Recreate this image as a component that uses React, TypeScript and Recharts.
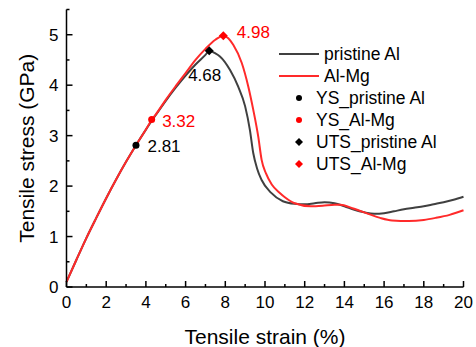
import React from "react";
import {
  ComposedChart,
  Line,
  Scatter,
  XAxis,
  YAxis,
  LabelList,
} from "recharts";

const strainPristine = [0, 0.5, 1, 1.5, 2, 2.5, 3, 3.5, 4, 4.5, 5, 5.5, 6, 6.5, 7, 7.19, 7.5, 7.73, 8.24, 8.65, 9.0, 9.24, 9.41, 9.6, 9.83, 10.3, 10.9, 11.5, 12, 12.5, 13, 13.5, 14, 14.5, 15, 15.5, 16, 16.5, 17, 17.5, 18, 18.5, 19, 19.5, 20];
const stressPristine = [0.1, 0.54, 0.97, 1.37, 1.76, 2.13, 2.48, 2.81, 3.12, 3.41, 3.69, 3.95, 4.19, 4.41, 4.6, 4.68, 4.63, 4.57, 4.3, 3.97, 3.58, 3.11, 2.65, 2.35, 2.12, 1.87, 1.7, 1.65, 1.64, 1.66, 1.68, 1.66, 1.6, 1.53, 1.48, 1.45, 1.46, 1.5, 1.54, 1.57, 1.6, 1.64, 1.68, 1.73, 1.79];

const strainAlMg = [0, 0.5, 1, 1.5, 2, 2.5, 3, 3.5, 4, 4.29, 4.5, 5, 5.5, 6, 6.5, 7, 7.5, 7.9, 8.15, 8.4, 8.83, 9.16, 9.41, 9.66, 9.83, 10.05, 10.34, 10.76, 11, 11.5, 12.3, 12.9, 13.5, 13.8, 14.4, 15.2, 15.8, 16.4, 17.25, 18, 18.6, 19.3, 20];
const stressAlMg = [0.1, 0.54, 0.97, 1.37, 1.76, 2.13, 2.48, 2.81, 3.12, 3.31, 3.42, 3.71, 3.98, 4.24, 4.5, 4.72, 4.9, 4.98, 4.93, 4.8, 4.44, 3.97, 3.51, 2.98, 2.52, 2.25, 2.03, 1.86, 1.78, 1.66, 1.6, 1.61, 1.63, 1.63, 1.56, 1.45, 1.37, 1.32, 1.31, 1.33, 1.37, 1.43, 1.52];

// yield and ultimate points [strain, stress]
const ysPristine = [3.5, 2.81];
const ysAlMg = [4.29, 3.32];
const utsPristine = [7.19, 4.68];
const utsAlMg = [7.9, 4.98];

const xTicks = [0, 1, 2, 3, 4, 5, 6, 7, 8, 9, 10, 11, 12, 13, 14, 15, 16, 17, 18, 19, 20];
const yTicks = [0, 0.5, 1, 1.5, 2, 2.5, 3, 3.5, 4, 4.5, 5, 5.5];

const legendItems = [
  { name: "pristine Al", kind: "line", color: "#404040" },
  { name: "Al-Mg", kind: "line", color: "#ff2a2a" },
  { name: "YS_pristine Al", kind: "circle", color: "#000000" },
  { name: "YS_Al-Mg", kind: "circle", color: "#ff0000" },
  { name: "UTS_pristine Al", kind: "diamond", color: "#000000" },
  { name: "UTS_Al-Mg", kind: "diamond", color: "#ff0000" },
];

const FONT = "'Liberation Sans', Arial, sans-serif";
const GRAY = "#404040";
const RED = "#ff2a2a";

const toPoints = (xs: number[], ys: number[]) => xs.map((x, i) => ({ x, y: ys[i] }));

const pristineData = toPoints(strainPristine, stressPristine);
const alMgData = toPoints(strainAlMg, stressAlMg);

const XTick = (props: any) => {
  const { x, y, payload, top } = props;
  const v = payload.value;
  const major = v % 2 === 0;
  const len = major ? 6 : 3;
  return (
    <g>
      <line x1={x} x2={x} y1={y} y2={top ? y + len : y - len} stroke="#000" strokeWidth={1.5} />
      {!top && major && (
        <text x={x} y={y + 21} textAnchor="middle" fontSize={17} fontFamily={FONT} fill="#000">
          {v}
        </text>
      )}
    </g>
  );
};

const YTick = (props: any) => {
  const { x, y, payload, right } = props;
  const v = payload.value;
  const major = Number.isInteger(v);
  const len = major ? 6 : 3;
  return (
    <g>
      <line x1={x} x2={right ? x - len : x + len} y1={y} y2={y} stroke="#000" strokeWidth={1.5} />
      {!right && major && (
        <text x={x - 8} y={y} dy="0.36em" textAnchor="end" fontSize={17} fontFamily={FONT} fill="#000">
          {v}
        </text>
      )}
    </g>
  );
};

const Dot = (color: string) => (props: any) => (
  <circle cx={props.cx} cy={props.cy} r={3.5} fill={color} />
);

const Diamond = (color: string) => (props: any) => {
  const { cx, cy } = props;
  const s = 4.5;
  return <polygon points={`${cx},${cy - s} ${cx + s},${cy} ${cx},${cy + s} ${cx - s},${cy}`} fill={color} />;
};

const valueLabel = (color: string, dx: number, dy: number, anchor: string) => (props: any) => {
  const { x, y, value } = props;
  return (
    <text x={x + dx} y={y + dy} textAnchor={anchor} fontSize={17} fontFamily={FONT} fill={color}>
      {Number(value).toFixed(2)}
    </text>
  );
};

function Legend() {
  return (
    <div style={{ position: "absolute", left: 278, top: 43, fontFamily: FONT, fontSize: 17.5 }}>
      {legendItems.map((it) => (
        <div key={it.name} style={{ display: "flex", alignItems: "center", height: 22 }}>
          <svg width={46} height={22} style={{ marginRight: it.kind === "line" ? 0 : -4 }}>
            {it.kind === "line" && <line x1={1} x2={41} y1={11} y2={11} stroke={it.color} strokeWidth={2} />}
            {it.kind === "circle" && <circle cx={21} cy={11} r={3} fill={it.color} />}
            {it.kind === "diamond" && <polygon points="21,7 25,11 21,15 17,11" fill={it.color} />}
          </svg>
          <span style={{ color: "#000", whiteSpace: "nowrap", marginLeft: it.kind === "line" ? 0 : -4 }}>{it.name}</span>
        </div>
      ))}
    </div>
  );
}

export default function App() {
  return (
    <div style={{ position: "fixed", left: 0, top: 0, width: 476, height: 347, background: "#fff" }}>
      <ComposedChart width={476} height={347} margin={{ top: 9.5, right: 12.5, left: 0, bottom: 0 }}>
        <XAxis
          xAxisId="b"
          dataKey="x"
          type="number"
          domain={[0, 20]}
          ticks={xTicks}
          interval={0}
          tickSize={0}
          tickMargin={0}
          tickLine={false}
          axisLine={{ stroke: "#000", strokeWidth: 1.5 }}
          tick={<XTick />}
          height={60}
          label={{ value: "Tensile strain (%)", position: "insideBottom", offset: 3, fontSize: 21, fontFamily: FONT, fill: "#000" }}
        />
        <XAxis
          xAxisId="t"
          orientation="top"
          dataKey="x"
          type="number"
          domain={[0, 20]}
          ticks={xTicks}
          interval={0}
          tickSize={0}
          tickMargin={0}
          tickLine={false}
          axisLine={{ stroke: "#000", strokeWidth: 1.5 }}
          tick={<XTick top />}
          height={0}
        />
        <YAxis
          yAxisId="l"
          type="number"
          domain={[0, 5.5]}
          ticks={yTicks}
          interval={0}
          tickSize={0}
          tickMargin={0}
          tickLine={false}
          axisLine={{ stroke: "#000", strokeWidth: 1.5 }}
          tick={<YTick />}
          width={66.5}
          label={{ value: "Tensile stress (GPa)", angle: -90, position: "insideLeft", offset: 27, fontSize: 21, fontFamily: FONT, fill: "#000", style: { textAnchor: "middle" } }}
        />
        <YAxis
          yAxisId="r"
          orientation="right"
          type="number"
          domain={[0, 5.5]}
          ticks={yTicks}
          interval={0}
          tickSize={0}
          tickMargin={0}
          tickLine={false}
          axisLine={{ stroke: "#000", strokeWidth: 1.5 }}
          tick={<YTick right />}
          width={0}
        />
        <Line
          xAxisId="b"
          yAxisId="l"
          data={pristineData}
          dataKey="y"
          type="monotone"
          stroke={GRAY}
          strokeWidth={2}
          dot={false}
          isAnimationActive={false}
        />
        <Line
          xAxisId="b"
          yAxisId="l"
          data={alMgData}
          dataKey="y"
          type="monotone"
          stroke={RED}
          strokeWidth={2}
          dot={false}
          isAnimationActive={false}
        />
        <Scatter xAxisId="b" yAxisId="l" data={[{ x: ysPristine[0], y: ysPristine[1] }]} dataKey="y" shape={Dot("#000")} isAnimationActive={false}>
          <LabelList dataKey="y" content={valueLabel("#000", 16, 11, "start")} />
        </Scatter>
        <Scatter xAxisId="b" yAxisId="l" data={[{ x: ysAlMg[0], y: ysAlMg[1] }]} dataKey="y" shape={Dot("#ff0000")} isAnimationActive={false}>
          <LabelList dataKey="y" content={valueLabel("#ff0000", 15, 12, "start")} />
        </Scatter>
        <Scatter xAxisId="b" yAxisId="l" data={[{ x: utsPristine[0], y: utsPristine[1] }]} dataKey="y" shape={Diamond("#000")} isAnimationActive={false}>
          <LabelList dataKey="y" content={valueLabel("#000", 0, 35, "middle")} />
        </Scatter>
        <Scatter xAxisId="b" yAxisId="l" data={[{ x: utsAlMg[0], y: utsAlMg[1] }]} dataKey="y" shape={Diamond("#ff0000")} isAnimationActive={false}>
          <LabelList dataKey="y" content={valueLabel("#ff0000", 18, 7, "start")} />
        </Scatter>
      </ComposedChart>
      <Legend />
    </div>
  );
}
